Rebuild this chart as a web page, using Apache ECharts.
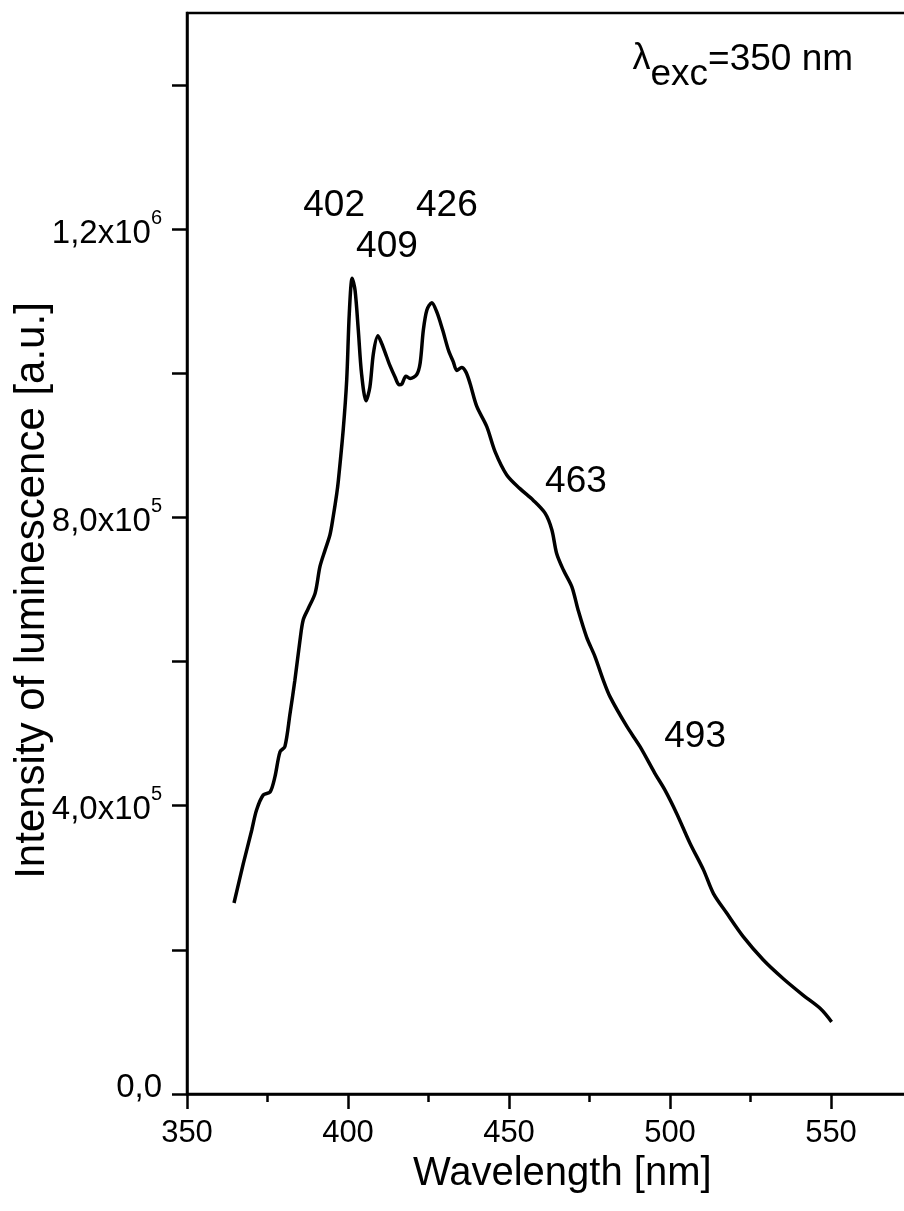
<!DOCTYPE html>
<html>
<head>
<meta charset="utf-8">
<script src="https://cdn.jsdelivr.net/npm/echarts@6/dist/echarts.min.js"></script>
<style>
html,body{margin:0;padding:0;background:#fff;}
#c{width:904px;height:1211px;}
</style>
</head>
<body>
<div id="c"></div>
<script>
// Wavelength (nm)
const wavelength = [364.6,367.5,370.1,371.6,373.7,375.8,377.3,378.9,380.4,382.0,383.5,385.1,386.1,387.7,389.8,391.3,392.9,394.4,395.4,396.5,397.0,398.5,399.6,400.4,401.3,402.2,403.2,404.2,405.6,406.8,407.9,409.3,410.5,412.0,413.0,414.6,415.9,416.7,418.0,419.3,421.3,422.4,423.4,424.5,426.0,427.6,429.4,431.2,432.7,433.8,435.3,436.6,437.9,440.0,443.1,445.7,449.3,453.4,457.5,461.2,463.3,464.8,466.9,469.5,471.5,474.1,476.7,479.3,481.4,486.6,490.7,495.3,498.4,502.1,506.2,510.4,513.5,517.6,522.8,529.0,535.2,541.4,546.6,550.2];
// Intensity (a.u.)
const intensity = [265000,320000,366000,394000,415000,419000,440000,475000,482000,528000,574000,630000,658000,674000,695000,732000,755000,776000,801000,833000,851000,921000,991000,1083000,1132000,1115000,1060000,1000000,962000,981000,1028000,1052000,1041000,1023000,1011000,995000,984000,985000,996000,993000,998000,1014000,1060000,1088000,1098000,1085000,1060000,1032000,1016000,1004000,1008000,1002000,986000,954000,926000,891000,859000,840000,824000,806000,783000,750000,727000,704000,671000,634000,607000,574000,551000,510000,482000,445000,422000,389000,348000,311000,278000,251000,218000,186000,160000,137000,119000,100000];
// Peak annotations: text and anchor (wavelength, intensity)
const peakLabels = ['402','409','426','463','493'];
const peakX = [395.7,412.1,430.7,470.8,507.8];
const peakY = [1232000,1176000,1232000,850000,495000];
// Axis tick values
const yTickValues = [0,200000,400000,600000,800000,1000000,1200000,1400000];
const yLabelValues = [0,400000,800000,1200000];
const xTickValues = [350,400,450,500,550];
const yLabelText = {0:'0,0',400000:'4,0x10|5',800000:'8,0x10|5',1200000:'1,2x10|6'};

const FONT = '"Liberation Sans", Arial, sans-serif';
const chart = echarts.init(document.getElementById('c'), null, {renderer:'canvas'});

const lineData = wavelength.map((w,i)=>[w,intensity[i]]);
const annData = peakLabels.map((t,i)=>({value:[peakX[i],peakY[i]], name:t}));

chart.setOption({
  animation:false,
  backgroundColor:'#fff',
  grid:{left:187, top:13, width:724.5, height:1081, show:true, borderColor:'#000', borderWidth:2.5, backgroundColor:'transparent', containLabel:false, outerBoundsMode:'none'},
  xAxis:{
    type:'value', min:350, max:575, interval:50,
    name:'Wavelength [nm]', nameLocation:'middle', nameGap:60, nameMoveOverlap:false,
    nameTextStyle:{fontFamily:FONT, fontSize:40, color:'#000', padding:[0,0,0,26]},
    axisLine:{show:true, onZero:false, lineStyle:{color:'#000', width:2.5}},
    axisTick:{show:true, inside:false, length:15, customValues:xTickValues, lineStyle:{color:'#000', width:2.5}},
    minorTick:{show:true, splitNumber:2, length:8, lineStyle:{color:'#000', width:2.5}},
    axisLabel:{show:true, customValues:xTickValues, margin:24, fontFamily:FONT, fontSize:31, color:'#000'},
    splitLine:{show:false}
  },
  yAxis:{
    type:'value', min:0, max:1500000, interval:200000,
    name:'Intensity of luminescence [a.u.]', nameLocation:'middle', nameGap:134, nameRotate:90, nameMoveOverlap:false,
    nameTextStyle:{fontFamily:FONT, fontSize:42, color:'#000', padding:[0,74,0,0]},
    axisLine:{show:true, onZero:false, lineStyle:{color:'#000', width:2.5}},
    axisTick:{show:true, inside:false, length:15, customValues:yTickValues, lineStyle:{color:'#000', width:2.5}},
    axisLabel:{show:true, customValues:yLabelValues, margin:25, color:'#000',
      formatter:function(v){
        const t = yLabelText[v];
        if(t===undefined) return '';
        const p = t.split('|');
        if(p.length===1) return '{z|'+p[0]+'}';
        return '{b|'+p[0]+'}{s|'+p[1]+'}';
      },
      rich:{
        z:{fontFamily:FONT, fontSize:33, color:'#000', padding:[0,0,12,0]},
        b:{fontFamily:FONT, fontSize:33, color:'#000', lineHeight:42, verticalAlign:'bottom'},
        s:{fontFamily:FONT, fontSize:20, color:'#000', lineHeight:42, verticalAlign:'top'}
      }
    },
    splitLine:{show:false}
  },
  series:[
    {
      type:'line', data:lineData, showSymbol:false, smooth:0.3,
      lineStyle:{color:'#000', width:3.5}, silent:true, z:3
    },
    {
      type:'scatter', data:annData, symbolSize:0, silent:true,
      itemStyle:{opacity:1},
      label:{show:true, position:'inside', formatter:'{b}', fontFamily:FONT, fontSize:37, color:'#000', opacity:1}
    },
    {
      type:'scatter', data:[{value:[522.6,1429000]}], symbolSize:0, silent:true,
      itemStyle:{opacity:1},
      label:{show:true, position:'inside', opacity:1,
        formatter:'{l|λ}{s|exc}{n|=350 nm}',
        rich:{
          l:{fontFamily:FONT, fontSize:36, color:'#000', lineHeight:58, verticalAlign:'top', padding:[6,0,0,0]},
          s:{fontFamily:FONT, fontSize:37, color:'#000', lineHeight:58, verticalAlign:'bottom'},
          n:{fontFamily:FONT, fontSize:37, color:'#000', lineHeight:58, verticalAlign:'top', padding:[6,0,0,0]}
        }
      }
    }
  ]
});
</script>
</body>
</html>
